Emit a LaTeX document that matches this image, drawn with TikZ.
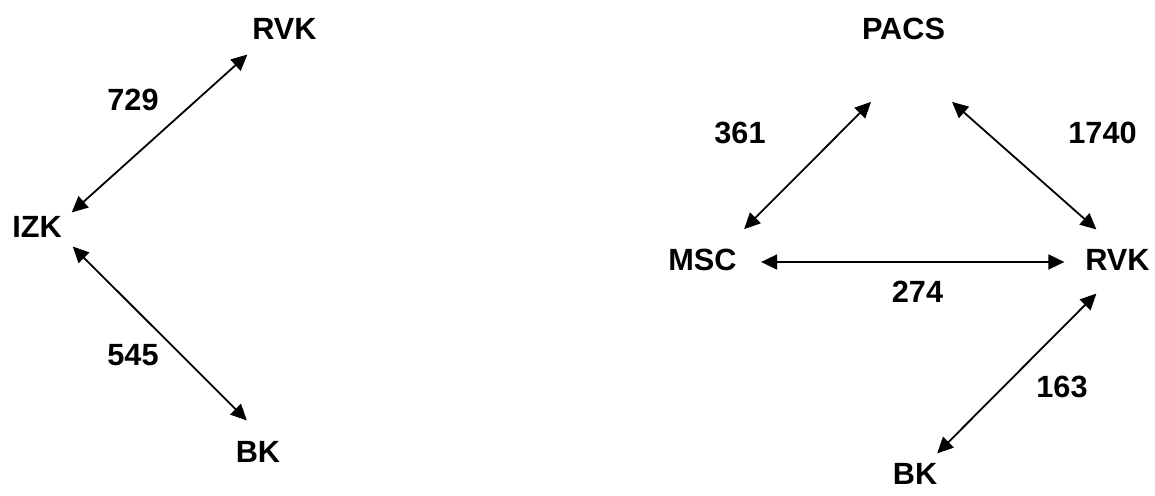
\documentclass[tikz,border=0pt]{standalone}
\usepackage{fontspec}
\setmainfont{Liberation Sans}
\usetikzlibrary{arrows.meta,calc}
\begin{document}
\begin{tikzpicture}[x=1pt,y=1pt,
  lbl/.style={inner sep=0pt,outer sep=0pt,font=\fontsize{30.7}{36}\selectfont\bfseries},
  link/.style={line width=1.8pt,{Triangle[length=16pt,width=15pt]}-{Triangle[length=16pt,width=15pt]}}]
\useasboundingbox (0,0) rectangle (1155,495);
% left graph
\node[lbl] (izk) at (37,268) {IZK};
\node[lbl] (rvkl) at (284.5,466) {RVK};
\node[lbl] (bkl) at (258,43.5) {BK};
\node[lbl] (w729) at (133,395) {729};
\node[lbl] (w545) at (133,140) {545};
\draw[link] ($(izk.north east)+(10,4)$) -- ($(rvkl.south west)+(-5,-15)$);
\draw[link] ($(izk.south east)+(11,-9)$) -- ($(bkl.north west)+(11,20.5)$);
% right graph
\node[lbl] (pacs) at (903.5,466) {PACS};
\node[lbl] (msc) at (702.5,235.5) {MSC};
\node[lbl] (rvkr) at (1117.5,235.5) {RVK};
\node[lbl] (bkr) at (915,21) {BK};
\node[lbl] (w361) at (740,362.5) {361};
\node[lbl] (w1740) at (1102.5,362.5) {1740};
\node[lbl] (w274) at (917.5,203.5) {274};
\node[lbl] (w163) at (1062,108.5) {163};
\draw[link] ($(msc.north east)+(7.5,19.5)$) -- ($(pacs.south)+(-32.5,-62)$);
\draw[link] ($(pacs.south)+(48.5,-62)$) -- ($(rvkr.north west)+(11,19.5)$);
\draw[link] ($(msc.east)+(24.5,-2.5)$) -- ($(rvkr.west)+(-21,-2.5)$);
\draw[link] ($(rvkr.south west)+(11,-23.5)$) -- ($(bkr.north east)+(0,10)$);
\end{tikzpicture}
\end{document}
